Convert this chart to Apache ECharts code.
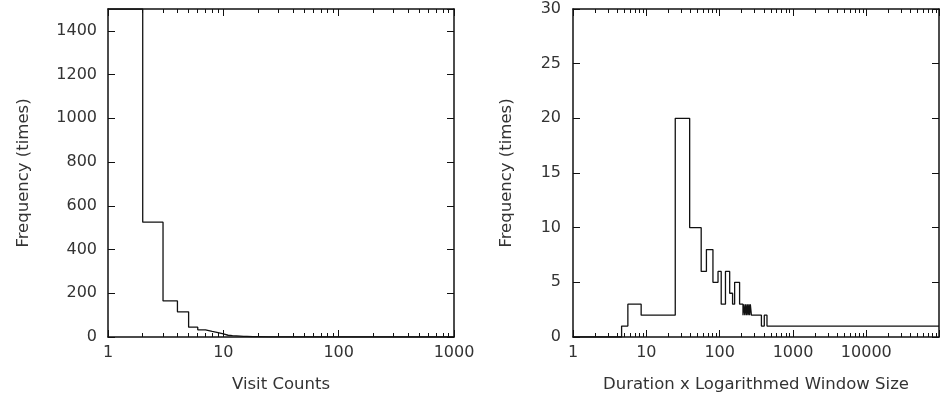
<html>
<head>
  <meta charset="UTF-8">
  <title>Visit Counts / Duration histograms</title>
  <script src="https://cdn.jsdelivr.net/npm/echarts/dist/echarts.min.js"></script>
  <style>
    body { margin: 0; background: #fff; }
    #main { width: 950px; height: 398px; }
  </style>
</head>
<body>
<div id="main"></div>
<script>
    // left panel: visit counts (bin start) and how often they occur
    var visitCounts = [1, 2, 3, 4, 5, 6, 7, 8, 9, 10, 11, 12, 13, 14, 15, 16, 18, 20, 25, 30, 1000];
    var visitFreq   = [1500, 525, 165, 115, 45, 33, 26, 20, 14, 8, 6, 5, 4, 3, 3, 2, 2, 1, 1, 0, 0];

    // right panel: duration x log(window size), bin edges and frequencies
    var durEdges = [1, 4.6, 5.6, 8.5, 24.8, 39, 56, 66, 81, 95, 105, 120, 137, 150, 160, 187,
                    208, 214, 220, 226, 232, 238, 244, 250, 256, 262, 271, 371, 406, 442, 98000];
    var durFreq  = [0, 1, 3, 2, 20, 10, 6, 8, 5, 6, 3, 6, 4, 3, 5, 3,
                    2, 3, 2, 3, 2, 3, 2, 3, 2, 3, 2, 1, 2, 1, 1];

    var visitTicks = { min: 0, max: 1500, interval: 200 };
    var durTicks = { min: 0, max: 30, interval: 5 };

    var font = 'DejaVu Sans';
    var txt = '#333';
    var ink = '#111';

    function pairs(xs, ys) {
        var out = [];
        for (var i = 0; i < xs.length; i++) out.push([xs[i], ys[i]]);
        return out;
    }

    function plain(v) { return String(Math.round(v)); }

    // gnuplot style: ticks inside, mirrored on top/right
    function xAx(grid, pos, max, name, labels) {
        return {
            type: 'log', logBase: 10, gridIndex: grid, position: pos,
            min: 1, max: max,
            name: labels ? name : '', nameLocation: 'middle', nameGap: 39,
            nameTextStyle: { fontFamily: font, fontSize: 16.5, color: txt },
            axisLine: { show: true, onZero: false, lineStyle: { color: ink, width: 1.5 } },
            axisTick: { show: true, inside: true, length: 7, lineStyle: { color: ink } },
            minorTick: { show: true, splitNumber: 9, length: 4, lineStyle: { color: ink } },
            axisLabel: { show: labels, margin: 8, showMaxLabel: max == 1000, formatter: plain,
                         fontFamily: font, fontSize: 16, color: txt },
            splitLine: { show: false }
        };
    }

    function yAx(grid, pos, t, gap, margin, labels) {
        return {
            type: 'value', gridIndex: grid, position: pos,
            min: t.min, max: t.max, interval: t.interval,
            name: labels ? 'Frequency (times)' : '', nameLocation: 'middle', nameGap: gap,
            nameTextStyle: { fontFamily: font, fontSize: 16.5, color: txt },
            axisLine: { show: true, onZero: false, lineStyle: { color: ink, width: 1.5 } },
            axisTick: { show: true, inside: true, length: 7, lineStyle: { color: ink } },
            axisLabel: { show: labels, margin: margin, showMaxLabel: t.max == 30, formatter: plain,
                         fontFamily: font, fontSize: 16, color: txt },
            splitLine: { show: false }
        };
    }

    var myChart = echarts.init(document.getElementById('main'));

    var option = {
        backgroundColor: '#fff',
        animation: false,
        grid: [
            { left: 108, top: 9, width: 346, height: 330 },
            { left: 573, top: 9, width: 366, height: 330 }
        ],
        xAxis: [
            xAx(0, 'bottom', 1000, 'Visit Counts', true),
            xAx(0, 'top', 1000, '', false),
            xAx(1, 'bottom', 98000, 'Duration x Logarithmed Window Size', true),
            xAx(1, 'top', 98000, '', false)
        ],
        yAxis: [
            yAx(0, 'left', visitTicks, 76, 11, true),
            yAx(0, 'right', visitTicks, 0, 0, false),
            yAx(1, 'left', durTicks, 58, 12, true),
            yAx(1, 'right', durTicks, 0, 0, false)
        ],
        series: [
            {
                type: 'line', step: 'end', xAxisIndex: 0, yAxisIndex: 0,
                showSymbol: false, data: pairs(visitCounts, visitFreq),
                lineStyle: { color: ink, width: 1.3 }
            },
            {
                type: 'line', step: 'end', xAxisIndex: 2, yAxisIndex: 2,
                showSymbol: false, data: pairs(durEdges, durFreq),
                lineStyle: { color: ink, width: 1.3 }
            }
        ]
    };

    myChart.setOption(option);
</script>
</body>
</html>
